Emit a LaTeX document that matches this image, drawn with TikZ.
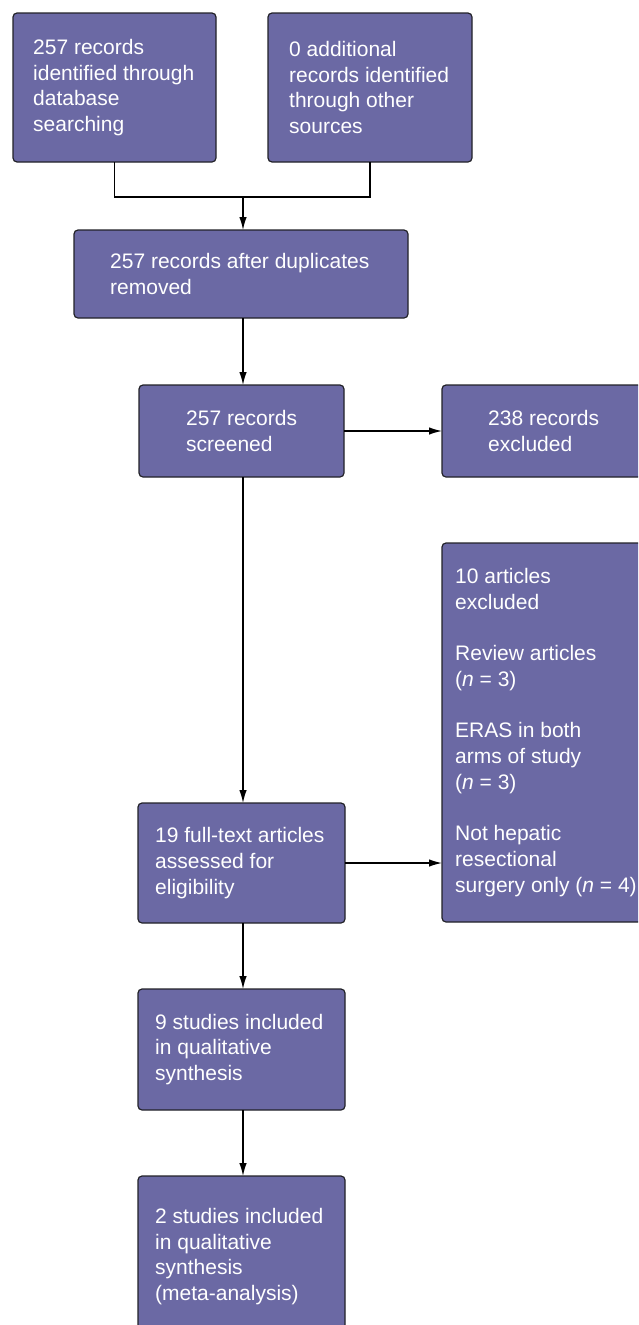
\documentclass[tikz,border=0pt]{standalone}
\usepackage{fontspec}
\setmainfont{Liberation Sans}
\usetikzlibrary{arrows.meta}
\definecolor{boxfill}{RGB}{107,105,164}
\definecolor{boxline}{RGB}{34,34,40}
\begin{document}
\begin{tikzpicture}[x=1pt,y=-1pt,
  box/.style={draw=boxline, line width=1.2pt, fill=boxfill, rounded corners=4pt,
    anchor=north west, inner sep=0pt, outer sep=0pt},
  txt/.style={anchor=west, align=left, inner sep=0pt, text=white,
    font=\fontsize{21}{25.7}\selectfont},
  conn/.style={line width=1.3pt, draw=black},
  arr/.style={conn, -{Latex[length=13pt,width=7.5pt]}}]
\useasboundingbox (0,0) rectangle (638,1325);
\clip (0,0) rectangle (638,1325);
% boxes
\node[box, minimum width=203pt, minimum height=149pt] (b1) at (13,13) {};
\node[box, minimum width=204pt, minimum height=149pt] (b2) at (268,13) {};
\node[box, minimum width=334pt, minimum height=88pt] (b3) at (74,230) {};
\node[box, minimum width=205pt, minimum height=92pt] (b4) at (139,385) {};
\node[box, minimum width=220pt, minimum height=92pt] (b5) at (442,385) {};
\node[box, minimum width=207pt, minimum height=120pt] (b6) at (138,803) {};
\node[box, minimum width=220pt, minimum height=379pt] (b7) at (442,543) {};
\node[box, minimum width=207pt, minimum height=121pt] (b8) at (138,989) {};
\node[box, minimum width=207pt, minimum height=161pt] (b9) at (138,1176) {};
% texts
\node[txt] (t1) at ([xshift=20pt]b1.west) {257 records\\identified through\\database\\searching};
\node[txt] (t2) at ([xshift=21pt]b2.west) {0 additional\\records identified\\through other\\sources};
\node[txt] (t3) at ([xshift=36pt]b3.west) {257 records after duplicates\\removed};
\node[txt] (t4) at ([xshift=47pt]b4.west) {257 records\\screened};
\node[txt] (t5) at ([xshift=46pt]b5.west) {238 records\\excluded};
\node[txt] (t6) at ([xshift=17pt]b6.west) {19 full-text articles\\assessed for\\eligibility};
\node[txt] (t7) at ([xshift=13pt]b7.west) {10 articles\\excluded\\[25.7pt]Review articles\\(\textit{n} = 3)\\[25.7pt]ERAS in both\\arms of study\\(\textit{n} = 3)\\[25.7pt]Not hepatic\\resectional\\surgery only (\textit{n} = 4)};
\node[txt] (t8) at ([xshift=17pt]b8.west) {9 studies included\\in qualitative\\synthesis};
\node[txt] (t9) at ([xshift=17pt]b9.west) {2 studies included\\in qualitative\\synthesis\\(meta-analysis)};
% connectors
\coordinate (merge) at (243,197);
\coordinate (spine) at (243,0);
\draw[conn] (b1.south) |- (merge) -| (b2.south);
\draw[arr] (merge) -- (merge |- b3.north);
\draw[arr] (spine |- b3.south) -- (spine |- b4.north);
\draw[arr] (b4.east) -- (b4.east -| b5.west);
\draw[arr] (spine |- b4.south) -- (spine |- b6.north);
\draw[arr] (b6.east) -- (b6.east -| b7.west);
\draw[arr] (spine |- b6.south) -- (spine |- b8.north);
\draw[arr] (spine |- b8.south) -- (spine |- b9.north);
\end{tikzpicture}
\end{document}
